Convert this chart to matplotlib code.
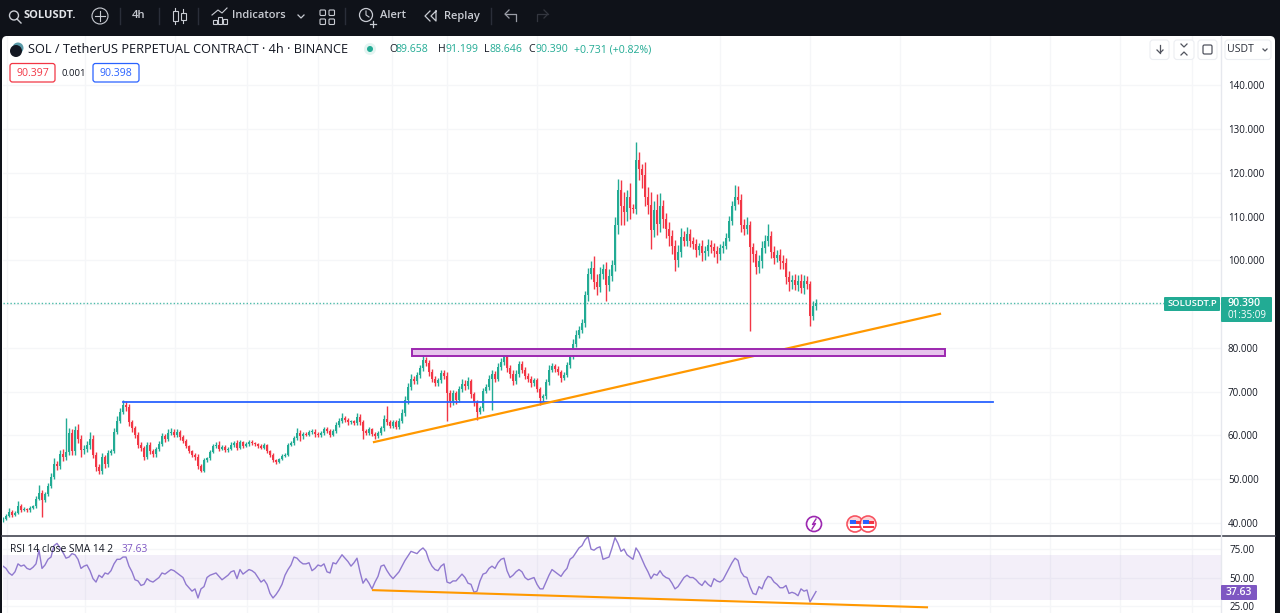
import numpy as np
import matplotlib
matplotlib.use('Agg')
import matplotlib.pyplot as plt
from matplotlib.patches import Circle, FancyBboxPatch, Rectangle, Wedge
from matplotlib.ticker import FormatStrFormatter

plt.rcParams['font.family'] = ['Open Sans', 'DejaVu Sans']

# precios de cierre, una vela cada 4h
closes = [
    41.0, 41.6, 42.6, 41.9, 42.3, 44.0, 43.0, 43.2, 42.9, 43.4,
    43.8, 45.6, 46.8, 45.2, 46.6, 48.5, 50.6, 53.4, 53.0, 55.8,
    55.0, 56.2, 60.5, 56.4, 61.2, 59.2, 56.6, 57.0, 57.8, 59.2,
    55.6, 52.8, 51.8, 55.0, 53.4, 56.1, 56.4, 60.8, 63.4, 65.4,
    67.0, 66.4, 63.0, 61.6, 60.2, 57.8, 57.2, 55.1, 57.8, 56.4,
    55.8, 56.8, 58.0, 59.8, 59.2, 60.6, 60.9, 60.2, 60.8, 59.6,
    58.8, 57.6, 56.4, 55.6, 55.2, 53.0, 52.0, 54.4, 54.8, 56.2,
    57.6, 57.9, 57.0, 57.4, 56.6, 57.0, 57.8, 58.2, 57.2, 58.4,
    57.6, 58.0, 58.6, 58.3, 58.0, 57.6, 57.2, 57.8, 56.4, 55.6,
    54.4, 54.0, 54.6, 55.4, 55.6, 57.8, 58.2, 59.4, 60.6, 59.8,
    60.4, 60.2, 60.7, 60.9, 60.3, 60.1, 60.6, 61.4, 61.0, 60.2,
    61.0, 62.4, 63.2, 64.0, 63.6, 63.0, 63.2, 62.8, 64.2, 63.0,
    61.0, 60.6, 61.4, 60.4, 59.8, 60.6, 61.6, 63.8, 63.0, 62.2,
    63.0, 62.0, 63.4, 65.2, 68.0, 71.0, 72.8, 72.4, 73.8, 75.4,
    77.2, 76.6, 74.4, 73.0, 72.0, 72.6, 74.2, 73.6, 69.6, 67.8,
    69.6, 68.2, 70.6, 71.8, 71.2, 72.4, 69.4, 67.6, 65.4, 66.2,
    70.2, 71.0, 72.8, 74.0, 73.0, 75.6, 76.8, 78.4, 75.4, 74.0,
    72.4, 74.0, 76.4, 75.0, 73.6, 73.0, 72.0, 72.6, 70.6, 68.6,
    69.0, 72.2, 75.0, 75.8, 75.2, 74.4, 73.2, 73.8, 76.0, 78.2,
    81.0, 83.0, 84.2, 85.8, 92.0, 96.8, 98.2, 95.0, 94.0, 96.8,
    98.0, 94.4, 96.4, 99.0, 108.0, 116.0, 112.4, 111.0, 114.6, 112.0,
    111.8, 123.0, 121.0, 119.6, 114.4, 112.6, 107.0, 111.6, 108.4, 112.4,
    109.4, 107.2, 105.6, 103.4, 100.0, 102.0, 105.4, 104.4, 106.0, 104.4,
    103.8, 102.4, 103.2, 101.8, 102.2, 103.6, 103.0, 102.2, 101.4, 102.8,
    103.4, 105.2, 109.0, 112.4, 114.6, 113.8, 108.0, 107.2, 108.2, 103.0,
    101.4, 98.4, 99.8, 102.8, 104.4, 105.6, 102.0, 100.6, 101.2, 99.8,
    99.4, 96.2, 95.0, 95.6, 94.4, 95.2, 93.8, 95.4, 94.6, 87.2,
    89.66, 90.39,
]

upper_wick = [
    .3, .5, .8, .4, .5, 1.0, .3, .4, .3, .4,
    .3, .6, 1.9, .8, .6, .7, .9, 1.4, .8, .8,
    1.0, 7.8, 1.2, 1.0, 1.0, 1.4, .8, .9, .9, 1.6,
    .8, .7, .6, .9, .5, .6, .4, .9, 1.0, .8,
    1.0, .8, .8, .6, .6, .7, .6, .5, .6, .7,
    .5, .6, .7, .8, .6, .8, .9, .5, .6, .4,
    .4, .3, .3, .3, .4, .5, .4, .4, .3, .5,
    .5, .7, .8, .4, .5, .4, .6, .5, .7, .6,
    .4, .5, .4, .4, .3, .3, .4, .5, .3, .3,
    .3, .3, .3, .4, .5, .4, .5, .5, 1.0, .6,
    .5, .4, .5, .6, .5, .4, .4, .6, .5, .4,
    .5, .6, .7, 1.2, .5, .5, .4, .4, .9, .6,
    .5, .4, .5, .4, .4, .5, .6, .9, 3.0, .6,
    .5, .5, .6, .9, 1.0, .9, 1.2, .8, .8, .8,
    1.0, .8, .6, .7, .6, .6, .8, .8, .9, .7,
    .7, .6, .8, 1.0, .9, 1.0, .6, .6, .5, .6,
    .6, .8, 1.0, .9, .8, .9, .8, .8, .7, .7,
    .9, 1.0, .6, .7, .6, .6, .6, .6, .5, .5,
    .5, .7, 1.2, .8, .6, .6, .6, .6, .8, .9,
    1.0, 1.0, .8, .8, 1.0, 1.4, 1.6, 2.8, 2.0, 1.6,
    1.2, 1.6, 1.6, 1.2, 2.0, 2.6, 2.4, 3.2, 1.4, 3.0,
    1.0, 4.1, 1.8, 1.0, 3.0, 2.4, 3.0, 2.0, 3.5, 3.0,
    1.5, 1.5, 1.5, 1.4, 1.2, 1.6, 2.0, 1.4, 1.6, 1.2,
    1.0, 1.0, .9, 1.4, 1.0, 1.2, 1.0, 1.0, 1.0, 1.0,
    1.0, 1.0, 1.2, 1.2, 2.6, 2.4, 1.4, 1.4, 1.8, .8,
    1.0, 1.0, 1.4, 1.6, 1.4, 2.8, 1.2, 1.2, 1.2, 1.4,
    1.4, 1.2, 1.4, 1.0, 1.2, 1.4, 1.6, 1.2, 1.0, .8,
    1.0, .81,
]

lower_wick = [
    .6, .4, .3, .6, .4, .3, .4, .3, .4, .3,
    .3, .3, .4, 3.8, .4, .5, .6, .6, .8, .7,
    .8, .6, .6, .8, .8, 1.0, 1.4, .8, .8, .9,
    .8, .8, .6, .5, .9, .5, .5, .4, .5, .6,
    .5, .8, .9, .8, .8, .7, .8, .7, .5, .7,
    .8, .6, .4, .4, .7, .4, .4, .6, .6, .6,
    .6, .5, .5, .5, .8, .7, .4, .4, .4, .3,
    .3, .4, .5, .4, .4, .4, .4, .4, .5, .4,
    .5, .3, .3, .4, .4, .4, .3, .3, .4, .5,
    .4, .4, .3, .3, .3, .3, .3, .3, .4, 1.0,
    .5, .4, .4, .4, .6, .5, .4, .4, .5, .5,
    .4, .4, .5, .4, .5, .5, .4, .5, .4, .7,
    1.8, .6, .5, .5, .5, .4, .4, .5, .5, .6,
    .5, .5, .5, .6, .7, .7, .6, .6, .6, .6,
    .6, .7, .8, .8, .7, .6, .6, .7, 6.4, 1.4,
    .8, .9, .6, .6, .7, .6, .8, .8, 1.8, .6,
    .6, .6, .6, 7.0, .8, .6, .6, .6, .8, .9,
    .8, .6, .6, .7, .8, .7, 1.0, .6, .7, 1.6,
    1.0, .7, .6, .6, .7, .6, .9, .6, .5, .6,
    .7, .7, .7, .8, 1.0, 1.2, 1.0, 1.5, 1.8, 1.2,
    1.0, 3.6, 1.4, 1.2, 1.4, 2.0, 4.4, 3.0, 2.0, 2.6,
    1.0, 1.2, 2.6, 3.0, 2.0, 2.0, 4.4, 1.6, 2.5, 2.0,
    2.0, 2.0, 2.4, 2.0, 2.4, 1.6, 1.2, 1.2, 1.2, 1.4,
    1.2, 1.6, 1.2, 2.0, 1.6, 1.2, 1.2, 1.4, 2.0, 1.2,
    1.0, .8, .8, .8, .8, 1.0, 1.6, 1.4, 1.2, 19.1,
    1.8, 1.6, 1.2, 1.6, 1.0, 1.2, 1.4, 1.4, 1.0, 1.8,
    1.4, 1.6, 2.0, 1.6, 1.2, 1.4, 1.2, 1.4, 1.2, 2.2,
    .9, 1.0,
]

rsi = [
    60, 58, 54, 52, 55, 62, 60, 61, 58, 57,
    59, 62, 74, 58, 61, 66, 68, 78, 80, 76,
    72, 67, 68, 71, 70, 66, 58, 60, 61, 56,
    49, 46, 52, 50, 54, 53, 56, 62, 66, 66,
    68, 68, 60, 55, 48, 47, 43, 44, 49, 47,
    46, 48, 50, 54, 53, 55, 57, 56, 54, 52,
    50, 44, 41, 38, 40, 32, 40, 42, 50, 52,
    53, 54, 51, 48, 50, 52, 55, 56, 49, 57,
    53, 55, 57, 56, 54, 50, 46, 48, 44, 36,
    32, 35, 39, 44, 52, 57, 61, 68, 67, 64,
    62, 62, 63, 56, 58, 61, 60, 62, 55, 54,
    63, 62, 66, 70, 67, 64, 60, 63, 67, 55,
    45, 49, 45, 40, 46, 51, 60, 61, 56, 52,
    49, 52, 55, 60, 65, 69, 73, 72, 71, 74,
    76, 73, 65, 60, 57, 56, 60, 62, 46, 45,
    47, 47, 50, 53, 50, 45, 44, 37, 38, 47,
    53, 54, 58, 60, 58, 63, 66, 67, 56, 50,
    52, 55, 57, 55, 50, 48, 49, 50, 44, 40,
    40, 46, 52, 57, 55, 53, 51, 55, 58, 66,
    68, 72, 76, 78, 83, 86, 75, 74, 76, 77,
    66, 67, 68, 76, 85, 80, 73, 75, 70, 68,
    66, 76, 72, 66, 60, 55, 49, 53, 52, 56,
    52, 50, 49, 45, 40, 42, 46, 50, 52, 50,
    50, 48, 45, 43, 47, 44, 42, 49, 47, 46,
    48, 53, 58, 63, 67, 65, 55, 51, 50, 42,
    36, 35, 42, 40, 47, 51, 50, 46, 44, 41,
    41, 43, 36, 37, 36, 34, 40, 38, 39, 28.5,
    33, 37.63,
]

open_first = 40.8
last_price = 90.39
price_ticks = [40, 50, 60, 70, 80, 90, 100, 110, 120, 130, 140]
rsi_ticks = [25, 50, 75]
grid_px = [7, 85, 175, 247, 318, 392, 447, 537, 630, 720, 810, 900, 990, 1050, 1120, 1192]

W, H = 1280, 613
UP = '#22ab94'
DOWN = '#f23645'
GRID = '#f5f6f8'
TEXT = '#131722'
DARK = '#0f1219'
ORANGE = '#ff9800'
BLUE = '#2962ff'
PURPLE = '#7e57c2'


def ejes(x0, y0, x1, y1):
    return fig.add_axes([x0 / W, 1 - y1 / H, (x1 - x0) / W, (y1 - y0) / H])


def a_vela(px):
    # cada vela ocupa 3 pixeles en pantalla
    return (px - 3) / 3


def caja(ax, x0, y0, x1, y1, fc, ec='none', r=2, lw=1, z=5):
    ax.add_patch(FancyBboxPatch((x0, y0), x1 - x0, y1 - y0, boxstyle=f'round,pad=0,rounding_size={r}',
                                fc=fc, ec=ec, lw=lw, zorder=z))


fig = plt.figure(figsize=(12.8, 6.13), dpi=100, facecolor=DARK)

# fondo blanco del panel
fondo = ejes(0, 0, W, H)
fondo.set_xlim(0, W)
fondo.set_ylim(H, 0)
fondo.axis('off')
caja(fondo, 2, 36, 1275, 640, 'white', r=5, z=1)

# grafico principal
ax = ejes(3, 36, 1221, 535)
ax.patch.set_alpha(0)
x = np.arange(len(closes))
c = np.array(closes)
o = np.concatenate(([open_first], c[:-1]))
hi = np.maximum(o, c) + np.array(upper_wick)
lo = np.minimum(o, c) - np.array(lower_wick)
colores = [UP if b >= a else DOWN for a, b in zip(o, c)]
ax.vlines(x, lo, hi, colors=colores, lw=1.0, zorder=3)
ax.bar(x, np.maximum(np.abs(c - o), 0.25), bottom=np.minimum(o, c), width=0.85, color=colores, lw=0, zorder=4)
ax.set_xlim(0, 1218 / 3)
ax.set_ylim(37.26, 151.3)
ax.set_yticks(price_ticks)
ax.yaxis.set_major_formatter(FormatStrFormatter('%.3f'))
ax.yaxis.tick_right()
ax.tick_params(axis='y', length=0, pad=5, labelsize=7, labelcolor=TEXT)
ax.set_xticks([a_vela(p) for p in grid_px])
ax.tick_params(axis='x', length=0, labelbottom=False)
ax.grid(True, color=GRID, lw=1)
ax.set_axisbelow(True)
for s in ax.spines.values():
    s.set_visible(False)

ax.axhline(last_price, color=UP, lw=1.0, ls=(0, (1, 1.5)), alpha=0.8, zorder=2)
ax.plot([a_vela(123), a_vela(993)], [67.6, 67.6], color=BLUE, lw=1.3, zorder=5)
ax.plot([a_vela(374), a_vela(940)], [58.5, 87.8], color=ORANGE, lw=1.6, zorder=5)
ax.add_patch(Rectangle((a_vela(412), 78.2), a_vela(945) - a_vela(412), 1.6, fc='#e6c3ec', ec='#9c27b0',
                       lw=1.4, zorder=5))

# panel RSI
ax2 = ejes(3, 536, 1221, 613)
ax2.patch.set_alpha(0)
ax2.axhspan(30, 70, color=PURPLE, alpha=0.09, lw=0, zorder=1)
ax2.plot(x, rsi, color='#9079cf', lw=1.0, zorder=3)
ax2.plot([a_vela(373), a_vela(927)], [38.9, 23.8], color=ORANGE, lw=1.5, zorder=4)
ax2.set_xlim(0, 1218 / 3)
ax2.set_ylim(18.8, 86.5)
ax2.set_yticks(rsi_ticks)
ax2.yaxis.set_major_formatter(FormatStrFormatter('%.2f'))
ax2.yaxis.tick_right()
ax2.tick_params(axis='y', length=0, pad=6, labelsize=7, labelcolor=TEXT)
ax2.set_xticks([a_vela(p) for p in grid_px])
ax2.tick_params(axis='x', length=0, labelbottom=False)
ax2.grid(True, color=GRID, lw=1)
ax2.set_axisbelow(True)
for s in ax2.spines.values():
    s.set_visible(False)

# capa de interfaz, en pixeles
ui = ejes(0, 0, W, H)
ui.patch.set_alpha(0)
ui.set_xlim(0, W)
ui.set_ylim(H, 0)
ui.axis('off')

ui.plot([2, 1275], [535.5, 535.5], color='#434651', lw=1.2)
ui.plot([1221, 1221], [36, 613], color='#e6e8ee', lw=1)


def t(px, py, s, size=8, color=TEXT, ha='left', **kw):
    ui.text(px, py, s, fontsize=size, color=color, ha=ha, va='center', zorder=8, **kw)


# barra superior
CL = '#c9ccd3'
ui.add_patch(Circle((14, 15.5), 4.5, fc='none', ec=CL, lw=1.0))
ui.plot([17, 21], [19, 23], color=CL, lw=1.0)
t(24, 16, 'SOLUSDT.', 8, '#e4e6ea', weight='bold')
ui.add_patch(Circle((100, 16), 8, fc='none', ec=CL, lw=0.8))
ui.plot([95, 105], [16, 16], color=CL, lw=0.8)
ui.plot([100, 100], [11, 21], color=CL, lw=0.8)
for sx in [120, 159, 198, 345, 491]:
    ui.plot([sx, sx], [8, 24], color='#2a2e39', lw=1)
t(139, 16, '4h', 8, CL, ha='center', weight='semibold')
for cx, y0, y1, by0, by1 in [(175, 8, 24, 11, 21), (183, 9, 23, 13, 20)]:
    ui.plot([cx, cx], [y0, y1], color=CL, lw=0.8)
    ui.add_patch(Rectangle((cx - 2.5, by0), 5, by1 - by0, fc=DARK, ec=CL, lw=0.8, zorder=4))
for bx, bh in [(213, 4), (218, 7), (223, 5)]:
    ui.add_patch(Rectangle((bx, 24 - bh), 4, bh, fc='none', ec=CL, lw=0.8))
ui.plot([212, 218, 222, 227], [15, 10, 13, 8], color=CL, lw=0.8)
t(232, 16, 'Indicators', 8, CL, weight='semibold')
ui.plot([298, 301, 304], [15, 18, 15], color=CL, lw=0.9)
for gx in [320, 329]:
    for gy in [10, 19]:
        ui.add_patch(FancyBboxPatch((gx, gy), 5.5, 5.5, boxstyle='round,pad=0,rounding_size=1', fc='none', ec=CL, lw=0.8))
ui.add_patch(Circle((366, 15), 6.5, fc='none', ec=CL, lw=0.9))
ui.plot([366, 366, 369], [11, 15, 17], color=CL, lw=0.8)
ui.plot([370, 376], [24, 24], color=CL, lw=0.9)
ui.plot([373, 373], [21, 27], color=CL, lw=0.9)
t(380, 16, 'Alert', 8, CL, weight='semibold')
ui.plot([430, 425, 430], [11, 16, 21], color=CL, lw=0.9)
ui.plot([436, 431, 436, 436], [11, 16, 21, 11], color=CL, lw=0.9)
t(444, 16, 'Replay', 8, CL, weight='semibold')
ui.plot([516, 516, 505], [21, 14, 14], color='#9a9da6', lw=0.9)
ui.plot([509, 505, 509], [10, 14, 18], color='#9a9da6', lw=0.9)
ui.plot([537, 537, 548], [21, 14, 14], color='#33363f', lw=0.9)
ui.plot([544, 548, 544], [10, 14, 18], color='#33363f', lw=0.9)

# titulo y valores
ui.add_patch(Circle((18, 48), 5.5, fc='#5a9aa8', zorder=6))
ui.add_patch(Circle((16, 51), 6, fc='#131722', zorder=7))
t(28.5, 49.5, 'SOL / TetherUS PERPETUAL CONTRACT · 4h · BINANCE', 9.2)
ui.add_patch(Circle((370, 49), 6, fc=UP, alpha=0.12, zorder=6))
ui.add_patch(Circle((370, 49), 3, fc=UP, zorder=7))
ohlc = [(389, 7, 'O', '89.658'), (438, 8, 'H', '91.199'), (484, 5.5, 'L', '88.646'), (528, 8, 'C', '90.390')]
for px, paso, letra, val in ohlc:
    t(px, 49.5, letra, 7.6)
    t(px + paso, 49.5, val, 7.6, UP)
t(574, 49.5, '+0.731 (+0.82%)', 7.6, UP)

caja(ui, 10, 63.5, 55, 82, 'white', ec=DOWN, r=2.5, lw=0.9)
t(32.5, 73, '90.397', 7.6, DOWN, ha='center')
t(74, 73, '0.001', 6.8, TEXT, ha='center')
caja(ui, 93, 63.5, 139, 82, 'white', ec=BLUE, r=2.5, lw=0.9)
t(116, 73, '90.398', 7.6, BLUE, ha='center')

# botones arriba a la derecha
for x0, x1 in [(1150, 1169), (1174, 1194), (1198, 1217), (1225, 1271)]:
    caja(ui, x0, 40, x1, 59.5, 'white', ec='#eceef2', r=3, lw=0.8)
G = '#50535e'
ui.plot([1160, 1160], [45, 53], color=G, lw=0.9, zorder=6)
ui.plot([1157, 1160, 1163], [50, 53, 50], color=G, lw=0.9, zorder=6)
ui.plot([1181, 1184, 1187], [44, 47, 44], color=G, lw=0.9, zorder=6)
ui.plot([1181, 1184, 1187], [55, 52, 55], color=G, lw=0.9, zorder=6)
ui.add_patch(FancyBboxPatch((1203, 45), 9, 9, boxstyle='round,pad=0,rounding_size=1.5', fc='none', ec=G, lw=0.9, zorder=6))
t(1227.5, 50, 'USDT', 7.6, '#2a2e39')
ui.plot([1263, 1265, 1267], [49, 51, 49], color=G, lw=0.9, zorder=6)

# etiquetas del ultimo precio
caja(ui, 1164, 297, 1220, 311, UP, r=1)
t(1192, 304, 'SOLUSDT.P', 6.8, 'white', ha='center', weight='semibold')
caja(ui, 1221, 297, 1272, 322, UP, r=1)
t(1227, 304, '90.390', 7.6, 'white', weight='semibold')
t(1227, 315, '01:35:09', 7.0, 'white')

# RSI
t(10, 549.5, 'RSI 14 close SMA 14 2', 7.4)
t(122, 549.5, '37.63', 7.4, PURPLE)
caja(ui, 1221, 585, 1257, 600, PURPLE, r=1)
t(1239, 592.5, '37.63', 7.6, 'white', ha='center', weight='semibold')

# eventos
ui.add_patch(Circle((814, 524), 7.5, fc='white', ec='#9c27b0', lw=1.2, zorder=6))
ui.plot([816, 812.5, 815.5, 812], [519, 524.5, 523.5, 529], color='#9c27b0', lw=1, zorder=7)
for fx in [855, 868]:
    ui.add_patch(Circle((fx, 524), 8, fc='white', ec='#f7525f', lw=1.2, zorder=6))
    ui.add_patch(Wedge((fx, 524), 7, 180, 360, fc='#f7525f', alpha=0.25, zorder=7))
    ui.add_patch(Rectangle((fx - 5, 519.5), 5.5, 4.5, fc='#2962ff', zorder=8))
    ui.add_patch(Rectangle((fx + 0.5, 521), 5, 2.5, fc='#f23645', zorder=8))
    ui.add_patch(Rectangle((fx - 5.5, 526), 11, 1.5, fc='#f23645', zorder=8))

plt.savefig('out.png', dpi=100, facecolor=fig.get_facecolor())
